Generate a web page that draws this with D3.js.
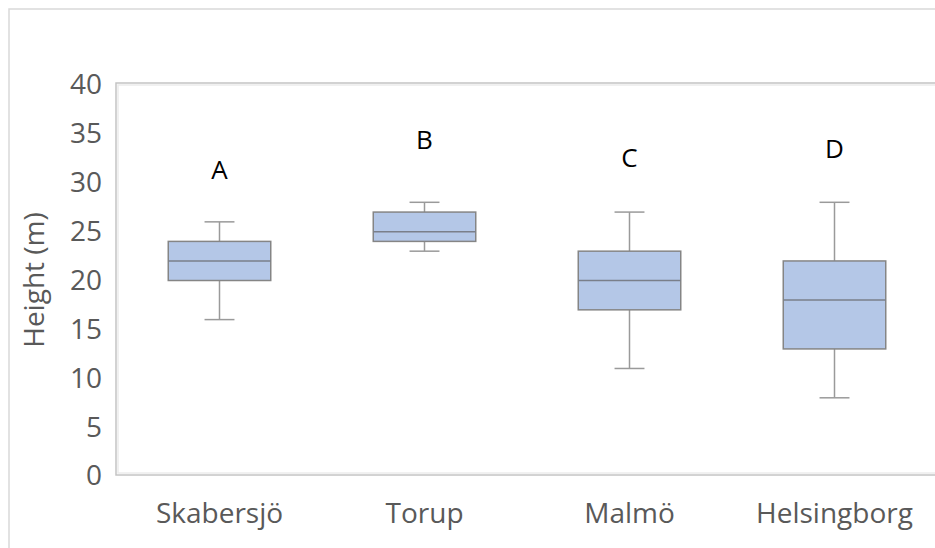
<!DOCTYPE html>
<html>
<head>
<meta charset="utf-8">
<script src="https://cdn.jsdelivr.net/npm/d3@7"></script>
<style>
  html, body { margin: 0; padding: 0; background: #fff; }
  svg { display: block; }
</style>
</head>
<body>
<svg id="chart" width="935" height="548"></svg>
<script>
const categories = ["Skabersjö", "Torup", "Malmö", "Helsingborg"];
const minValues    = [16, 23, 11, 8];
const q1Values     = [20, 24, 17, 13];
const medianValues = [22, 25, 20, 18];
const q3Values     = [24, 27, 23, 22];
const maxValues    = [26, 28, 27, 28];
const groupLetters = ["A", "B", "C", "D"];
const letterHeights = [31.3, 34.4, 32.6, 33.5];
const yTicks = [0, 5, 10, 15, 20, 25, 30, 35, 40];

const FONT = "'Open Sans', 'Noto Sans', sans-serif";
const svg = d3.select("#chart");
const W = 935, H = 548;
const plot = { left: 116, top: 83, right: 945, bottom: 475 };

// outer chart frame
svg.append("rect")
  .attr("x", 9).attr("y", 9).attr("width", W + 20).attr("height", H + 20)
  .attr("fill", "#fff").attr("stroke", "#d9d9d9").attr("stroke-width", 1.5);

const x = d3.scaleBand().domain(categories).range([117, 937]).paddingInner(0).paddingOuter(0);
const y = d3.scaleLinear().domain([0, 40]).range([476, 85]);

// plot area frame (double light-gray line)
svg.append("rect")
  .attr("x", plot.left).attr("y", plot.top)
  .attr("width", plot.right - plot.left).attr("height", plot.bottom - plot.top)
  .attr("fill", "#fff").attr("stroke", "#c4c4c4").attr("stroke-width", 1.5);
svg.append("rect")
  .attr("x", plot.left + 2).attr("y", plot.top + 2)
  .attr("width", plot.right - plot.left - 4).attr("height", plot.bottom - plot.top - 4)
  .attr("fill", "none").attr("stroke", "#ececec").attr("stroke-width", 1.5);

const data = categories.map((c, i) => ({
  cat: c, min: minValues[i], q1: q1Values[i], med: medianValues[i],
  q3: q3Values[i], max: maxValues[i], letter: groupLetters[i], ly: letterHeights[i]
}));

const boxW = x.bandwidth() * 0.5;
const capW = x.bandwidth() * 0.146;
const g = svg.append("g");

const grp = g.selectAll("g.box").data(data).enter().append("g").attr("class", "box");
const cx = d => x(d.cat) + x.bandwidth() / 2;

// whiskers
grp.append("line")
  .attr("x1", cx).attr("x2", cx)
  .attr("y1", d => y(d.max)).attr("y2", d => y(d.q3))
  .attr("stroke", "#9a9a9a").attr("stroke-width", 1.5);
grp.append("line")
  .attr("x1", cx).attr("x2", cx)
  .attr("y1", d => y(d.q1)).attr("y2", d => y(d.min))
  .attr("stroke", "#9a9a9a").attr("stroke-width", 1.5);
grp.append("line")
  .attr("x1", d => cx(d) - capW / 2).attr("x2", d => cx(d) + capW / 2)
  .attr("y1", d => y(d.max)).attr("y2", d => y(d.max))
  .attr("stroke", "#9a9a9a").attr("stroke-width", 1.5);
grp.append("line")
  .attr("x1", d => cx(d) - capW / 2).attr("x2", d => cx(d) + capW / 2)
  .attr("y1", d => y(d.min)).attr("y2", d => y(d.min))
  .attr("stroke", "#9a9a9a").attr("stroke-width", 1.5);

// boxes
grp.append("rect")
  .attr("x", d => cx(d) - boxW / 2).attr("width", boxW)
  .attr("y", d => y(d.q3)).attr("height", d => y(d.q1) - y(d.q3))
  .attr("fill", "#b4c7e7").attr("stroke", "#858585").attr("stroke-width", 1.5);
// median
grp.append("line")
  .attr("x1", d => cx(d) - boxW / 2).attr("x2", d => cx(d) + boxW / 2)
  .attr("y1", d => y(d.med)).attr("y2", d => y(d.med))
  .attr("stroke", "#7a7f8a").attr("stroke-width", 1.5);

// group letters
grp.append("text")
  .attr("x", cx).attr("y", d => y(d.ly))
  .attr("dy", "0.36em")
  .attr("text-anchor", "middle")
  .attr("font-family", FONT)
  .attr("font-size", 26)
  .attr("fill", "#000")
  .text(d => d.letter);

// y axis
const yAxis = svg.append("g")
  .attr("transform", `translate(${plot.left},0)`)
  .call(d3.axisLeft(y).tickValues(yTicks).tickSize(0).tickPadding(14));
yAxis.select(".domain").remove();
yAxis.selectAll("text")
  .attr("font-family", FONT)
  .attr("font-size", 28).attr("fill", "#595959");

// x axis
const xAxis = svg.append("g")
  .attr("transform", `translate(0,${y(0)})`)
  .call(d3.axisBottom(x).tickSize(0).tickPadding(27));
xAxis.select(".domain").remove();
xAxis.selectAll("text")
  .attr("font-family", FONT)
  .attr("font-size", 28).attr("fill", "#595959");

// y title
svg.append("text")
  .attr("transform", "translate(34,280) rotate(-90)")
  .attr("text-anchor", "middle")
  .attr("dy", "0.36em")
  .attr("font-family", FONT)
  .attr("font-size", 28).attr("fill", "#595959")
  .text("Height (m)");
</script>
</body>
</html>
